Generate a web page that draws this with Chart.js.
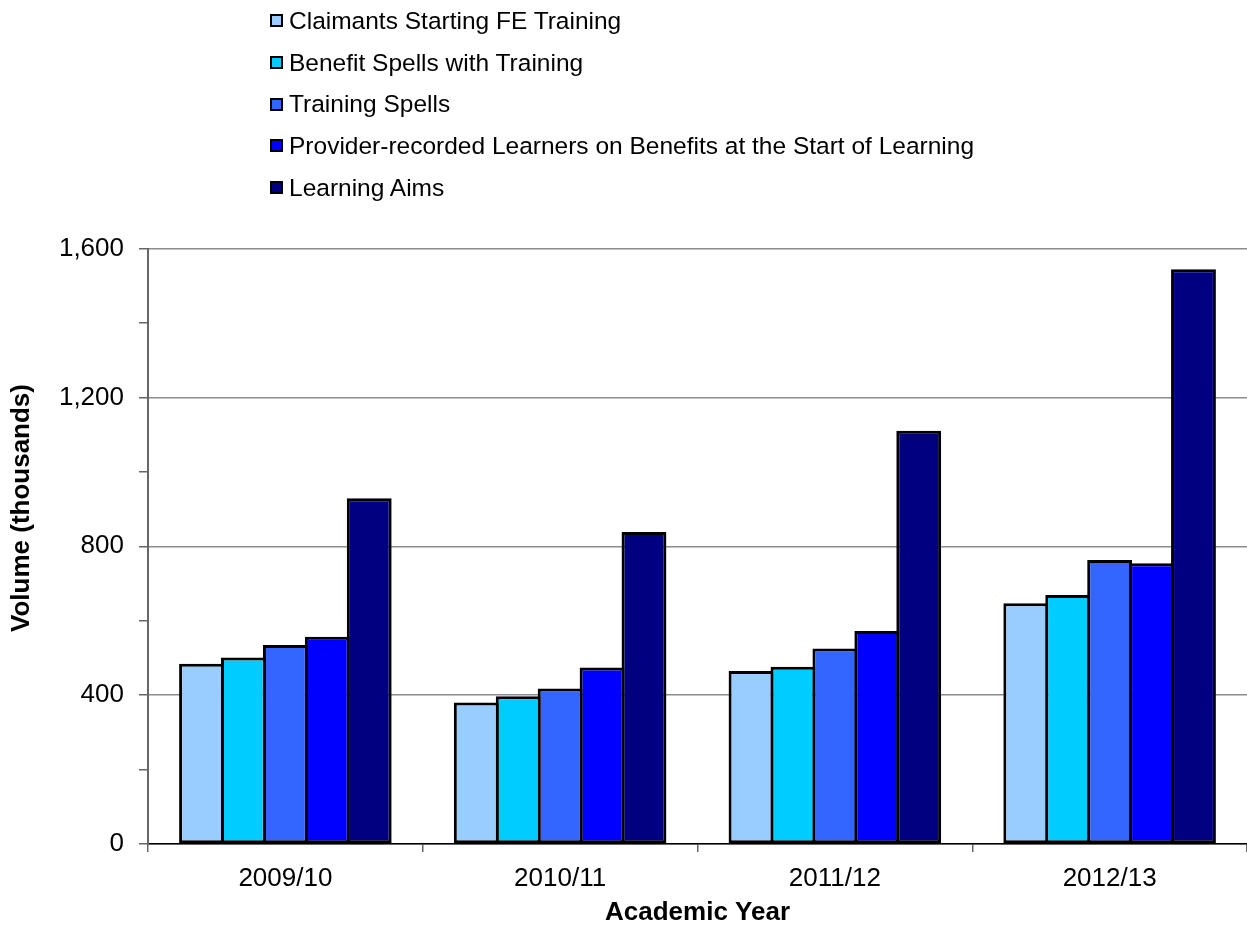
<!DOCTYPE html>
<html>
<head>
<meta charset="utf-8">
<script src="https://cdn.jsdelivr.net/npm/chart.js@4/dist/chart.umd.min.js"></script>
<style>
  html, body { margin: 0; padding: 0; background: #fff; }
  #wrap { position: relative; width: 1247px; height: 926px; overflow: hidden; }
  #c { position: absolute; left: 0; top: 0; }
  #legend { position: absolute; left: 270px; top: 0px; font-family: "Liberation Sans", Arial, sans-serif; font-size: 24.5px; color: #000; }
  .row { height: 41.7px; display: flex; align-items: center; white-space: nowrap; }
  .box { width: 9px; height: 9px; border: 2px solid #000; margin-right: 6px; flex: none; }
</style>
</head>
<body>
<div id="wrap">
  <canvas id="c" width="1247" height="926"></canvas>
  <div id="legend"></div>
</div>
<script>
const categories = ["2009/10", "2010/11", "2011/12", "2012/13"];
const seriesNames = [
  "Claimants Starting FE Training",
  "Benefit Spells with Training",
  "Training Spells",
  "Provider-recorded Learners on Benefits at the Start of Learning",
  "Learning Aims"
];
const valuesClaimants = [484, 380, 465, 647];
const valuesBenefitSpells = [501, 397, 476, 669];
const valuesTrainingSpells = [535, 418, 525, 763];
const valuesProviderLearners = [557, 474, 572, 754];
const valuesLearningAims = [929, 838, 1110, 1544];
const seriesColors = ["#99CCFF", "#00CCFF", "#3366FF", "#0000FF", "#000080"];
const yTickValues = [0, 400, 800, 1200, 1600];
const yTitle = "Volume (thousands)";
const xTitle = "Academic Year";

const seriesValues = [valuesClaimants, valuesBenefitSpells, valuesTrainingSpells, valuesProviderLearners, valuesLearningAims];

const legendEl = document.getElementById('legend');
seriesNames.forEach((name, i) => {
  const row = document.createElement('div');
  row.className = 'row';
  const box = document.createElement('span');
  box.className = 'box';
  box.style.background = seriesColors[i];
  const txt = document.createElement('span');
  txt.textContent = name;
  row.appendChild(box);
  row.appendChild(txt);
  legendEl.appendChild(row);
});

const FONT = '"Liberation Sans", Arial, sans-serif';

const yTitlePlugin = {
  id: 'yTitle',
  afterDraw(chart) {
    const ctx = chart.ctx;
    ctx.save();
    ctx.translate(22, 508);
    ctx.rotate(-Math.PI / 2);
    ctx.font = 'bold 26px ' + FONT;
    ctx.textAlign = 'center';
    ctx.textBaseline = 'middle';
    ctx.fillStyle = '#000';
    ctx.fillText(yTitle, 0, 0);
    ctx.restore();
  }
};

new Chart(document.getElementById('c'), {
  type: 'bar',
  data: {
    labels: categories,
    datasets: seriesNames.map((name, i) => ({
      label: name,
      data: seriesValues[i],
      backgroundColor: seriesColors[i],
      borderColor: '#000',
      borderWidth: 3,
      borderSkipped: false,
      categoryPercentage: 0.763,
      barPercentage: 1.07
    }))
  },
  plugins: [yTitlePlugin],
  options: {
    responsive: false,
    animation: false,
    devicePixelRatio: 1,
    layout: { padding: { top: 248.5, left: 0, right: 0, bottom: 0 } },
    plugins: { legend: { display: false }, tooltip: { enabled: false } },
    scales: {
      x: {
        afterFit: (s) => { s.height = 82; },
        grid: { offset: true, drawOnChartArea: false, drawTicks: true, tickLength: 8, tickColor: '#666', lineWidth: 1.5 },
        border: { color: '#000', width: 1.5 },
        ticks: { color: '#000', font: { family: FONT, size: 26 }, padding: 11, maxRotation: 0 },
        title: { display: true, text: xTitle, color: '#000', font: { family: FONT, size: 26, weight: 'bold', lineHeight: 1 }, padding: { top: 0, bottom: 0 } }
      },
      y: {
        min: 0, max: 1600,
        afterFit: (s) => { s.width = 148; },
        afterBuildTicks: (s) => {
          const t = [];
          for (let v = 0; v <= 1600; v += 200) t.push({ value: v });
          s.ticks = t;
        },
        grid: {
          color: (ctx) => (ctx.tick && yTickValues.includes(ctx.tick.value)) ? '#8c8c8c' : 'rgba(0,0,0,0)',
          tickColor: '#666',
          lineWidth: 1.5,
          tickLength: 9,
          drawTicks: true
        },
        border: { color: '#666', width: 2 },
        ticks: {
          color: '#000',
          font: { family: FONT, size: 26 },
          padding: 15,
          callback: (v) => yTickValues.includes(v) ? v.toLocaleString('en-US') : ''
        },
        title: { display: false }
      }
    }
  }
});
</script>
</body>
</html>
